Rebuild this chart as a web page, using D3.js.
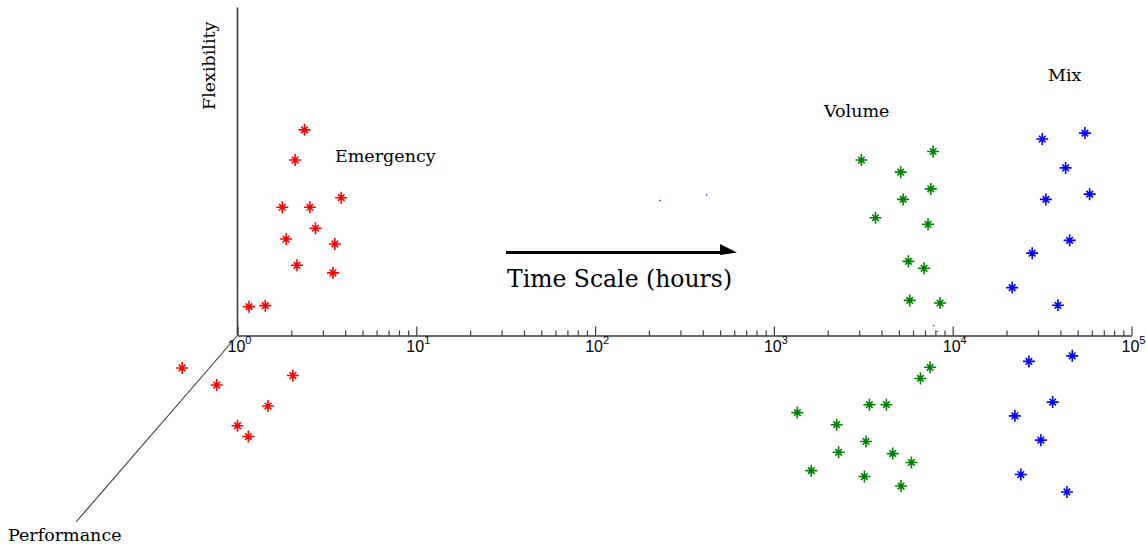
<!DOCTYPE html>
<html><head><meta charset="utf-8">
<script src="https://cdn.jsdelivr.net/npm/d3@7"></script>
<style>body{margin:0;background:#fff}svg{display:block}</style>
</head><body><svg id="c" width="1146" height="550"></svg>
<script>
// ---- data (time in hours, level: >0 flexibility, <0 performance) ----
const emergencyHours = [2.37, 2.10, 3.80, 1.78, 2.54, 2.73, 1.87, 3.50, 2.15, 3.42, 1.16, 1.43,
                        0.49, 0.765, 2.04, 1.48, 1.00, 1.15];
const emergencyLevel = [6.27, 5.35, 4.20, 3.91, 3.91, 3.27, 2.94, 2.79, 2.14, 1.91, 0.88, 0.91,
                        -0.99, -1.51, -1.22, -2.15, -2.75, -3.08];
const volumeHours = [3085, 7770, 5120, 7540, 5280, 3700, 7280, 5655, 6920, 5750, 8500,
                     7472, 6600, 1352, 3420, 4257, 2244, 3274, 2302, 4620, 5877, 1619, 3208, 5140];
const volumeLevel = [5.35, 5.61, 4.98, 4.47, 4.15, 3.59, 3.39, 2.26, 2.05, 1.07, 0.99,
                     -0.97, -1.31, -2.35, -2.11, -2.11, -2.72, -3.23, -3.56, -3.60, -3.87, -4.12, -4.30, -4.59];
const mixHours = [31680, 54900, 42820, 33200, 58340, 45080, 27830, 21510, 38770,
                  26680, 46620, 36220, 22270, 31120, 24050, 43550];
const mixLevel = [5.99, 6.17, 5.11, 4.15, 4.31, 2.90, 2.51, 1.46, 0.92,
                  -0.79, -0.62, -2.03, -2.45, -3.19, -4.24, -4.77];
const strayHours = [230, 420, 7800, 8200];
const strayLevel = [4.12, 4.29, 0.31, 0.13];
const strayColors = ["#0000ff", "#0000ff", "#ff0000", "#ff0000"];

const seriesNames = ["Emergency", "Volume", "Mix"];
const seriesColors = ["#ff0000", "#008000", "#0000ff"];
const majorTicks = [1, 10, 100, 1000, 10000, 100000];
const tickBase = "10";
const tickExponents = ["0", "1", "2", "3", "4", "5"];
const axisTitleTime = "Time Scale (hours)";
const axisTitleFlex = "Flexibility";
const axisTitlePerf = "Performance";

// ---- drawing ----
const svg = d3.select("#c");
const x = d3.scaleLog().domain([1, 1e5]).range([237.5, 1131.5]);
const y = d3.scaleLinear().domain([0, 10]).range([335.5, 7.5]);
const axisColor = "#3a3a3a";
const serif = "'DejaVu Serif', serif";

const minorTicks = [];
for (let d = 0; d < 5; d++) for (let k = 2; k <= 9; k++) minorTicks.push(k * Math.pow(10, d));

// time axis
const gx = svg.append("g").attr("transform", `translate(0,${y(0)})`);
gx.call(d3.axisBottom(x).tickValues(minorTicks).tickSizeInner(-5).tickSizeOuter(0).tickFormat(""));
gx.append("g").call(d3.axisBottom(x).tickValues(majorTicks).tickSizeInner(-9).tickSizeOuter(0).tickFormat(""))
  .select(".domain").remove();
gx.selectAll("path.domain").attr("stroke", axisColor).attr("stroke-width", 1.6);
gx.selectAll(".tick line").attr("stroke", axisColor).attr("stroke-width", 1.2);

// tick labels 10^n
const lbl = svg.append("g").attr("font-family", "'Liberation Sans', Arial, sans-serif").attr("fill", "#000");
majorTicks.forEach((v, i) => {
  const t = lbl.append("text").attr("x", x(v) + 2).attr("y", 352).attr("text-anchor", "middle")
    .style("font-size", "16px");
  t.append("tspan").text(tickBase);
  t.append("tspan").style("font-size", "11px").attr("dy", -8).text(tickExponents[i]);
});

// flexibility (vertical) axis
svg.append("line").attr("x1", x(1)).attr("x2", x(1)).attr("y1", y(0)).attr("y2", y(10))
  .attr("stroke", axisColor).attr("stroke-width", 1.6);
// performance (depth) axis
svg.append("line").attr("x1", x(1)).attr("y1", y(0)).attr("x2", 76).attr("y2", 522)
  .attr("stroke", axisColor).attr("stroke-width", 1.1);

// markers
function star(r1, r2) {
  const p = d3.path();
  p.moveTo(-r1, 0); p.lineTo(r1, 0);
  p.moveTo(0, -r1); p.lineTo(0, r1);
  p.moveTo(-r2, -r2); p.lineTo(r2, r2);
  p.moveTo(-r2, r2); p.lineTo(r2, -r2);
  return p.toString();
}
const series = [
  {hours: emergencyHours, level: emergencyLevel},
  {hours: volumeHours, level: volumeLevel},
  {hours: mixHours, level: mixLevel}
];
series.forEach((s, i) => {
  const pts = s.hours.map((h, j) => [h, s.level[j]]);
  const g = svg.append("g");
  const m = g.selectAll("g").data(pts).join("g")
    .attr("transform", d => `translate(${x(d[0])},${y(d[1])})`);
  m.append("path").attr("d", star(6, 3.3)).attr("stroke", seriesColors[i]).attr("stroke-width", 1.6).attr("fill", "none");
  m.append("circle").attr("r", 2).attr("fill", seriesColors[i]);
});
// stray dots
svg.append("g").selectAll("rect").data(strayHours.map((h, j) => [h, strayLevel[j], strayColors[j]])).join("rect")
  .attr("x", d => x(d[0]) - 0.5).attr("y", d => y(d[1]) - 0.5).attr("width", 1.3).attr("height", 1.3)
  .attr("fill", d => d[2]);

// series labels
const txt = svg.append("g").attr("font-family", serif).attr("fill", "#000").attr("font-size", 17.5);
const labelPos = [[335, 162], [824, 117], [1048, 81]];
seriesNames.forEach((n, i) => txt.append("text").attr("x", labelPos[i][0]).attr("y", labelPos[i][1]).text(n));
txt.append("text").attr("transform", "translate(215,110) rotate(-90)").text(axisTitleFlex);
txt.append("text").attr("x", 8).attr("y", 541).text(axisTitlePerf);
txt.append("text").attr("x", 507).attr("y", 287).attr("font-size", 23.5).text(axisTitleTime);

// arrow
svg.append("line").attr("x1", 506).attr("x2", 728).attr("y1", 252.5).attr("y2", 252.5)
  .attr("stroke", "#000").attr("stroke-width", 3);
svg.append("path").attr("d", "M720,244 L737,252.5 L720,255 Z").attr("fill", "#000");
</script></body></html>
